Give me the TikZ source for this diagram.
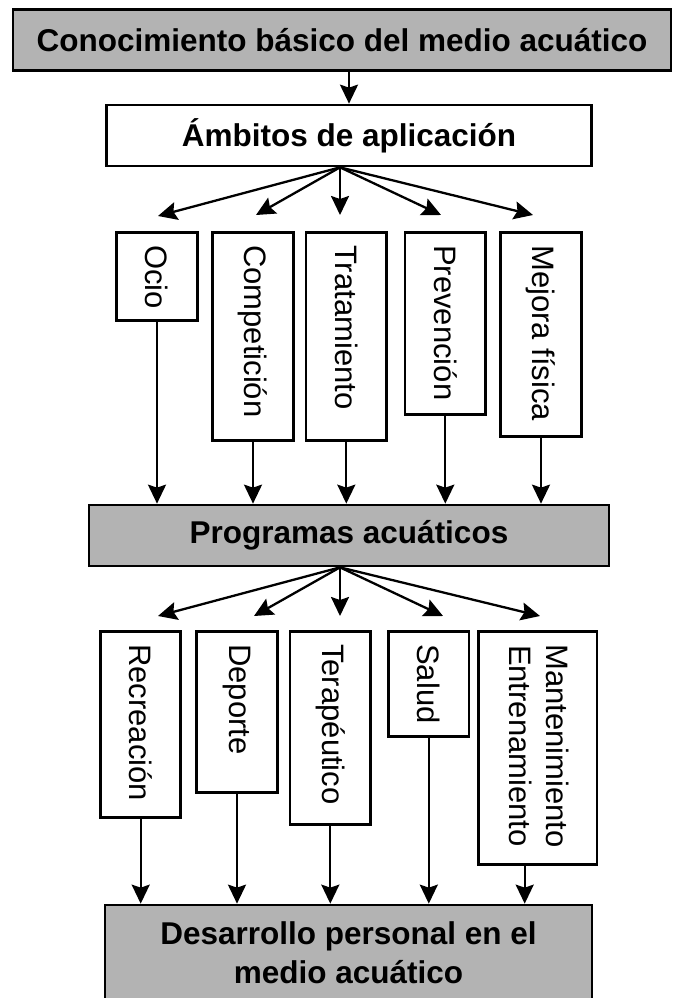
\documentclass[tikz,border=0pt]{standalone}
\usepackage{fontspec}
\setmainfont{Liberation Sans}
\usetikzlibrary{arrows.meta}
\definecolor{boxgray}{RGB}{179,179,179}
\begin{document}
\begin{tikzpicture}[x=1pt,y=-1pt,
  hbox/.style={draw, line width=2.7pt, inner sep=0pt, font=\fontsize{31.5}{39}\selectfont\bfseries, align=center},
  grey/.style={fill=boxgray},
  vbox/.style={draw, line width=2.7pt, inner sep=0pt, minimum width=80.6pt, anchor=north},
  vtext/.style={rotate=-90, anchor=west, inner sep=0pt, font=\fontsize{31}{37}\selectfont, align=center},
  arr/.style={line width=2.3pt, -{Stealth[length=19pt,width=18pt,inset=3pt]}}]
\useasboundingbox (0,0) rectangle (672,998);

% main boxes
\node[hbox,grey,minimum width=658pt,minimum height=61.5pt] (top) at (342,40) {Conocimiento básico del medio acuático};
\node[hbox,minimum width=485pt,minimum height=61pt] (amb) at (349,135.5) {Ámbitos de aplicación};
\node[hbox,grey,minimum width=520pt,minimum height=61pt] (prog) at (349,535.5) {Programas acuáticos};
\node[hbox,grey,minimum width=487pt,minimum height=95pt] (des) at (348.5,952.5) {Desarrollo personal en el\\medio acuático};

% upper row
\node[vbox,minimum height=88pt] (ocio) at (157,231) {};
\node[vtext] at ([yshift=-14pt]ocio.north) {Ocio};
\node[vbox,minimum height=208pt] (comp) at (253,231) {};
\node[vtext] at ([yshift=-14pt]comp.north) {Competición};
\node[vbox,minimum height=208pt] (trat) at (346.3,231) {};
\node[vtext] at ([yshift=-14pt]trat.north) {Tratamiento};
\node[vbox,minimum height=182pt] (prev) at (445.3,231) {};
\node[vtext] at ([yshift=-14pt]prev.north) {Prevención};
\node[vbox,minimum height=204pt] (mej) at (541,231) {};
\node[vtext] at ([yshift=-14pt]mej.north) {Mejora física};

% lower row
\node[vbox,minimum width=80pt,minimum height=186pt] (rec) at (140.7,630) {};
\node[vtext] at ([yshift=-14pt]rec.north) {Recreación};
\node[vbox,minimum height=161pt] (dep) at (237,630) {};
\node[vtext] at ([yshift=-14pt]dep.north) {Deporte};
\node[vbox,minimum height=193pt] (ter) at (330.3,630) {};
\node[vtext] at ([yshift=-14pt]ter.north) {Terapéutico};
\node[vbox,minimum height=105pt] (sal) at (428.8,630) {};
\node[vtext] at ([yshift=-14pt]sal.north) {Salud};
\node[vbox,minimum width=118.5pt,minimum height=233pt] (mant) at (537.7,630) {};
\node[vtext] at ([yshift=-14pt,xshift=1pt]mant.north) {Mantenimiento\\Entrenamiento};

% top arrow
\draw[arr] (amb.north |- top.south) -- (amb.north);

% upper fan
\coordinate (fa) at ([xshift=-9pt]amb.south);
\coordinate (ta1) at (158,216);
\coordinate (ta2) at (256,215);
\coordinate (ta3) at (340,215);
\coordinate (ta4) at (441,215);
\coordinate (ta5) at (533,215);
\foreach \t in {ta1,ta2,ta3,ta4,ta5} \draw[arr] (fa) -- (\t);

% into programas
\foreach \b in {ocio,comp,trat,prev,mej} \draw[arr] (\b.south) -- (\b.south |- prog.north);

% lower fan
\coordinate (fb) at ([xshift=-9pt]prog.south);
\coordinate (tb1) at (158,616);
\coordinate (tb2) at (254,616);
\coordinate (tb3) at (340,616);
\coordinate (tb4) at (443,616);
\coordinate (tb5) at (540,616);
\foreach \t in {tb1,tb2,tb3,tb4,tb5} \draw[arr] (fb) -- (\t);

% into desarrollo
\foreach \b in {rec,dep,ter,sal} \draw[arr] (\b.south) -- (\b.south |- des.north);
\draw[arr] ([xshift=-13pt]mant.south) -- ([xshift=-13pt]mant.south |- des.north);
\end{tikzpicture}
\end{document}
